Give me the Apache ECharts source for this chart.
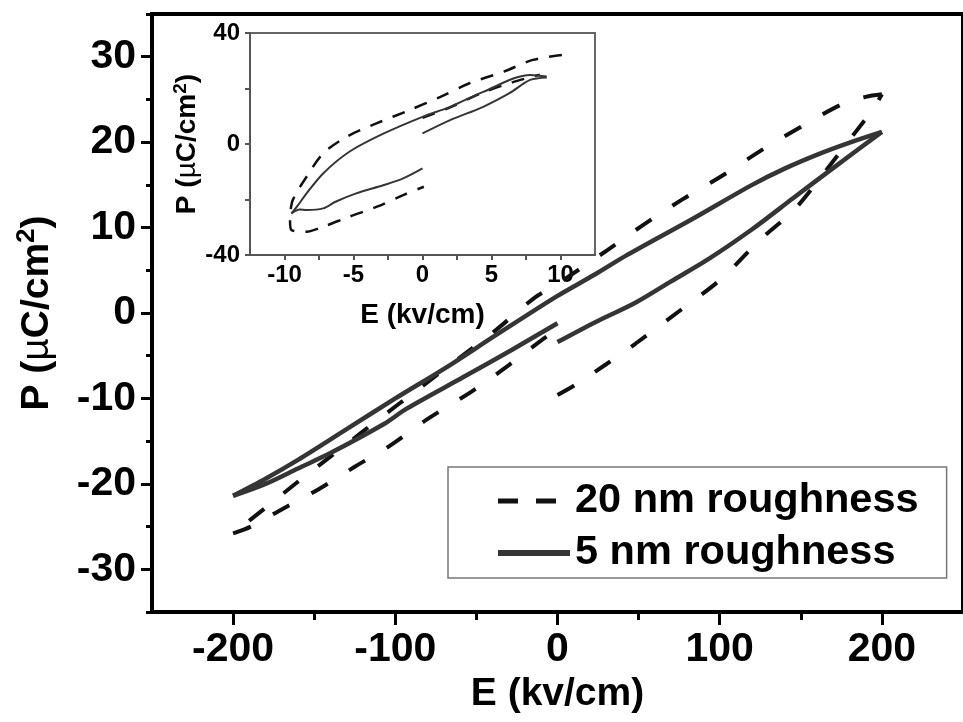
<!DOCTYPE html>
<html><head><meta charset="utf-8">
<script src="https://cdn.jsdelivr.net/npm/echarts@6/dist/echarts.min.js"></script>
<style>html,body{margin:0;padding:0;background:#fff}#c{width:963px;height:722px}</style>
</head><body><div id="c"></div>
<script>
// ---------- Main plot: 5 nm roughness (solid) ----------
const s5_up_E   = [0, 23, 48, 70, 93, 120, 145, 173, 200];
const s5_up_P   = [-3.4, -1.1, 1.2, 3.7, 6.3, 9.8, 13.4, 17.4, 21.2];
const s5_down_E = [200, 181, 161, 140, 120, 84, 43, 23, 0, -38, -68, -100, -130, -160, -180, -200];
const s5_down_P = [21.2, 20.0, 18.6, 16.9, 15.0, 11.1, 6.8, 4.5, 2.0, -2.6, -6.3, -10.0, -13.6, -17.2, -19.4, -21.4];
const s5_ret_E  = [-200, -180, -160, -140, -107, -93, -58, -28, 0];
const s5_ret_P  = [-21.4, -20.0, -18.2, -16.4, -13.0, -11.2, -7.5, -4.3, -1.2];
// ---------- Main plot: 20 nm roughness (dashed) ----------
const s20_up_E   = [0, 11, 30, 48, 77, 101, 125, 146, 166, 183, 195, 200];
const s20_up_P   = [-9.6, -8.4, -6.0, -3.6, 0.5, 4.0, 8.6, 12.1, 16.8, 21.0, 24.0, 25.6];
const s20_down_E = [200, 190, 175, 151, 127, 101, 77, 52, 31, 0, -14, -38, -60, -85, -110, -133, -157, -180, -200];
const s20_down_P = [25.6, 25.3, 24.4, 21.9, 19.2, 16.0, 13.3, 10.2, 7.4, 3.4, 1.8, -2.0, -5.2, -8.8, -12.4, -15.8, -19.3, -22.8, -25.8];
const s20_ret_E  = [-200, -189, -172, -147, -125, -103, -80, -53, -30, -7, -2];
const s20_ret_P  = [-25.8, -25.0, -23.2, -20.6, -18.0, -15.5, -12.4, -9.2, -6.1, -2.8, -2.3];
// ---------- Inset: 5 nm (solid) ----------
const i5_up_E   = [0, 2.0, 4.4, 6.3, 7.8, 9.0];
const i5_up_P   = [3.8, 8.6, 13.4, 18.3, 23.1, 24.0];
const i5_down_E = [9.0, 7.8, 4.4, 2.0, 0, -2.8, -5.3, -7.2, -8.4, -9.1, -9.5];
const i5_down_P = [24.3, 24.9, 18.8, 13.4, 9.8, 3.8, -2.8, -10.6, -17.8, -22.6, -25.0];
const i5_ret_E  = [-9.5, -8.9, -8.4, -7.2, -6.3, -4.8, -2.8, -1.4, 0];
const i5_ret_P  = [-25.0, -23.6, -23.8, -23.2, -20.8, -17.8, -14.8, -12.4, -8.8];
// ---------- Inset: 20 nm (dashed) ----------
const i20_up_E   = [0, 2.0, 4.4, 6.5, 8.5];
const i20_up_P   = [9.4, 13.2, 18.6, 22.2, 25.0];
const i20_down_E = [10.1, 8.0, 5.9, 3.4, 1.3, -0.9, -3.3, -5.5, -7.2, -8.4, -9.4, -9.6];
const i20_down_P = [32.1, 30.3, 26.1, 21.9, 17.0, 12.3, 7.5, 2.6, -3.4, -11.8, -20.2, -25.6];
const i20_ret_E  = [-9.6, -9.5, -8.4, -7.2, -5.3, -3.3, -1.4, 0.1];
const i20_ret_P  = [-27.5, -31.0, -31.6, -29.8, -26.2, -22.6, -18.4, -15.4];
// ---------- Axis ticks / labels ----------
const mainXTicks  = [-200, -100, 0, 100, 200];
const mainXMinor  = [-150, -50, 50, 150];
const mainYTicks  = [-30, -20, -10, 0, 10, 20, 30];
const mainYMinor  = [-35, -25, -15, -5, 5, 15, 25, 35];
const insetXLabels = [-10, -5, 0, 5, 10];
const insetXTicks  = [-10, -7.5, -5, -2.5, 0, 2.5, 5, 7.5, 10];
const insetYLabels = [-40, 0, 40];
const insetYTicks  = [-40, -20, 0, 20, 40];
const names = ['20 nm roughness', '5 nm roughness'];

const FF = '"Liberation Sans", Arial, Helvetica, sans-serif';
const zip = (a, b) => a.map((v, i) => [v, b[i]]);
const bold = (size) => ({fontFamily: FF, fontWeight: 'bold', fontSize: size, color: '#000'});

function ser(name, E, P, gi, dashed, width, dash) {
  const col = dashed ? '#111' : '#353535';
  return {
    type: 'line', name: name, xAxisIndex: gi === 0 ? 0 : 2, yAxisIndex: gi === 0 ? 0 : 2,
    data: zip(E, P), symbol: 'none', showSymbol: false, smooth: 0.3, z: 3,
    itemStyle: {color: col},
    lineStyle: {color: col, width: width, type: dashed ? dash : 'solid', cap: 'butt'},
    emphasis: {disabled: true}, silent: true, animation: false
  };
}

const series = [
  ser(names[0], s20_up_E, s20_up_P, 0, true, 4, [19, 25]),
  ser(names[0], s20_down_E, s20_down_P, 0, true, 4, [19, 25]),
  ser(names[0], s20_ret_E, s20_ret_P, 0, true, 4, [19, 25]),
  ser(names[1], s5_up_E, s5_up_P, 0, false, 4.5),
  ser(names[1], s5_down_E, s5_down_P, 0, false, 4.5),
  ser(names[1], s5_ret_E, s5_ret_P, 0, false, 4.5),
  ser(names[0], i20_up_E, i20_up_P, 1, true, 2.5, [13, 11]),
  ser(names[0], i20_down_E, i20_down_P, 1, true, 2.5, [13, 11]),
  ser(names[0], i20_ret_E, i20_ret_P, 1, true, 2.5, [13, 11]),
  ser(names[1], i5_up_E, i5_up_P, 1, false, 2),
  ser(names[1], i5_down_E, i5_down_P, 1, false, 2),
  ser(names[1], i5_ret_E, i5_ret_P, 1, false, 2)
];

function pName(size, supSize, supPad) {
  return {
    rich: {
      a: {fontFamily: FF, fontWeight: 'bold', fontSize: size, color: '#000'},
      m: {fontFamily: FF, fontWeight: 'normal', fontSize: size, color: '#000'},
      s: {fontFamily: FF, fontWeight: 'bold', fontSize: supSize, color: '#000', padding: [0, 0, supPad, 0]}
    }
  };
}
const pLabel = '{a|P (}{m|µ}{a|C/cm}{s|2}{a|)}';

const chart = echarts.init(document.getElementById('c'), null, {renderer: 'canvas'});
chart.setOption({
  animation: false,
  backgroundColor: '#fff',
  grid: [
    {left: 152, top: 14, width: 821, height: 598, show: true, borderColor: '#000', borderWidth: 4, backgroundColor: 'transparent'},
    {left: 250, top: 33, width: 345, height: 222, show: true, borderColor: '#666', borderWidth: 2, backgroundColor: '#fff'}
  ],
  xAxis: [
    {gridIndex: 0, type: 'value', min: -250, max: 250, position: 'bottom',
     axisLine: {onZero: false, lineStyle: {color: '#000', width: 3}},
     axisTick: {customValues: mainXTicks, length: 13, lineStyle: {color: '#000', width: 3}},
     axisLabel: Object.assign({customValues: mainXTicks, margin: 17}, bold(41)),
     splitLine: {show: false},
     name: 'E (kv/cm)', nameLocation: 'middle', nameGap: 63, nameTextStyle: bold(39)},
    {gridIndex: 0, type: 'value', min: -250, max: 250, position: 'bottom',
     axisLine: {show: false, onZero: false},
     axisTick: {customValues: mainXMinor, length: 8, lineStyle: {color: '#000', width: 3}},
     axisLabel: {show: false}, splitLine: {show: false}},
    {gridIndex: 1, type: 'value', min: -12.5, max: 12.5, position: 'bottom',
     axisLine: {onZero: false, lineStyle: {color: '#555', width: 2}},
     axisTick: {customValues: insetXTicks, length: 5, lineStyle: {color: '#555', width: 2}},
     axisLabel: Object.assign({customValues: insetXLabels, margin: 8}, bold(24)),
     splitLine: {show: false},
     name: 'E (kv/cm)', nameLocation: 'middle', nameGap: 46, nameTextStyle: bold(28)}
  ],
  yAxis: [
    {gridIndex: 0, type: 'value', min: -35, max: 35, position: 'left',
     axisLine: {onZero: false, lineStyle: {color: '#000', width: 3}},
     axisTick: {customValues: mainYTicks, length: 11, lineStyle: {color: '#000', width: 3}},
     axisLabel: Object.assign({customValues: mainYTicks, margin: 16}, bold(41)),
     splitLine: {show: false},
     name: pLabel, nameLocation: 'middle', nameGap: 92, nameTextStyle: pName(39, 26, 20)},
    {gridIndex: 0, type: 'value', min: -35, max: 35, position: 'left',
     axisLine: {show: false, onZero: false},
     axisTick: {customValues: mainYMinor, length: 6, lineStyle: {color: '#000', width: 3}},
     axisLabel: {show: false}, splitLine: {show: false}},
    {gridIndex: 1, type: 'value', min: -40, max: 40, position: 'left',
     axisLine: {onZero: false, lineStyle: {color: '#555', width: 2}},
     axisTick: {customValues: insetYTicks, length: 5, lineStyle: {color: '#555', width: 2}},
     axisLabel: Object.assign({customValues: insetYLabels, margin: 10}, bold(24)),
     splitLine: {show: false},
     name: pLabel, nameLocation: 'middle', nameGap: 44, nameTextStyle: pName(28, 19, 14)}
  ],
  legend: {
    orient: 'vertical', left: 448, top: 467,
    itemWidth: 72, itemHeight: 14, itemGap: 10,
    padding: [13, 28, 4, 47],
    borderColor: '#777', borderWidth: 1.5, backgroundColor: '#fff',
    selectedMode: false,
    itemStyle: {opacity: 0, borderWidth: 0},
    textStyle: Object.assign({lineHeight: 42}, bold(41.5)),
    data: [
      {name: names[0], itemStyle: {opacity: 0}, lineStyle: {type: [20, 18], width: 5, color: '#111'}},
      {name: names[1], itemStyle: {opacity: 0}, lineStyle: {width: 6, color: '#353535'}}
    ]
  },
  series: series
});
</script>
</body></html>
